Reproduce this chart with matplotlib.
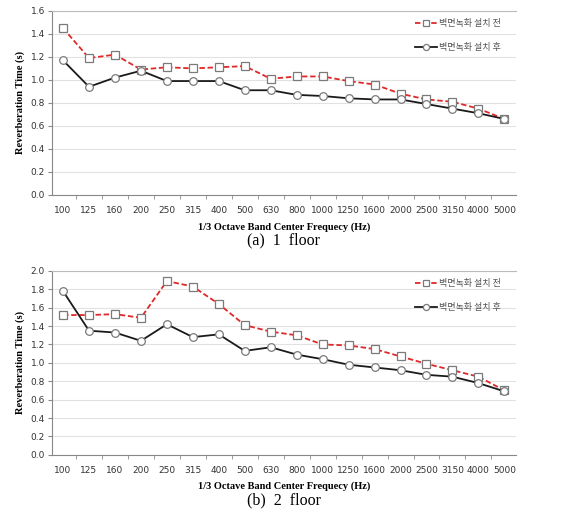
import matplotlib.pyplot as plt
import numpy as np

plt.rcParams['font.family'] = ['DejaVu Sans']

freqs = ['100', '125', '160', '200', '250', '315', '400', '500', '630', '800',
         '1000', '1250', '1600', '2000', '2500', '3150', '4000', '5000']

# (a) 1 floor
before_1 = [1.45, 1.19, 1.22, 1.09, 1.11, 1.10, 1.11, 1.12, 1.01, 1.03,
            1.03, 0.99, 0.96, 0.88, 0.83, 0.81, 0.75, 0.66]
after_1 = [1.17, 0.94, 1.02, 1.08, 0.99, 0.99, 0.99, 0.91, 0.91, 0.87,
           0.86, 0.84, 0.83, 0.83, 0.79, 0.75, 0.71, 0.66]

# (b) 2 floor
before_2 = [1.52, 1.52, 1.53, 1.49, 1.89, 1.83, 1.64, 1.41, 1.34, 1.30,
            1.20, 1.19, 1.15, 1.07, 0.99, 0.92, 0.85, 0.70]
after_2 = [1.78, 1.35, 1.33, 1.24, 1.42, 1.28, 1.31, 1.13, 1.17, 1.09,
           1.04, 0.98, 0.95, 0.92, 0.87, 0.85, 0.78, 0.69]

label_before = '벽면녹화 설치 전'
label_after = '벽면녹화 설치 후'

fig = plt.figure(figsize=(5.64, 5.21), dpi=100)
ax1 = fig.add_axes([0.092, 0.626, 0.823, 0.353])
ax2 = fig.add_axes([0.092, 0.127, 0.823, 0.353])


def draw(ax, before, after, ymax, caption):
    x = np.arange(len(freqs))
    ax.plot(x, before, color='#e02828', linestyle=(0, (3, 1.5)), linewidth=1.3,
            marker='s', markersize=5.5, markerfacecolor='white',
            markeredgecolor='#7a7a7a', markeredgewidth=0.9, label=label_before)
    ax.plot(x, after, color='#1a1a1a', linewidth=1.3,
            marker='o', markersize=5.5, markerfacecolor='white',
            markeredgecolor='#7a7a7a', markeredgewidth=0.9, label=label_after)
    ax.set_xlim(-0.43, len(freqs) - 0.55)
    ax.set_ylim(0, ymax)
    ax.set_yticks(np.arange(0, ymax + 0.01, 0.2))
    ax.set_yticklabels(['%.1f' % v for v in np.arange(0, ymax + 0.01, 0.2)])
    ax.set_xticks(x)
    ax.set_xticklabels(freqs)
    ax.set_xticks(np.arange(0.5, len(freqs) - 1, 1), minor=True)
    ax.tick_params(axis='x', which='major', length=0, labelsize=6.5,
                   colors='#333333', pad=8)
    ax.tick_params(axis='x', which='minor', length=3, direction='out',
                   color='#888888')
    ax.tick_params(axis='y', length=3, direction='out', labelsize=6.5,
                   colors='#333333', pad=2, color='#888888')
    ax.grid(axis='y', color='#e2e2e2', linewidth=0.8)
    ax.set_axisbelow(True)
    ax.spines['right'].set_visible(False)
    ax.spines['top'].set_color('#bbbbbb')
    ax.spines['left'].set_color('#888888')
    ax.spines['bottom'].set_color('#888888')
    ax.set_ylabel('Reverberation Time (s)', family='Liberation Serif',
                  fontweight='bold', fontsize=7.5, labelpad=4)
    ax.set_xlabel('1/3 Octave Band Center Frequecy (Hz)',
                  family='Liberation Serif', fontweight='bold', fontsize=7.5,
                  labelpad=5)
    leg = ax.legend(loc='upper right', bbox_to_anchor=(0.985, 1.0), frameon=False,
                    prop={'family': ['Noto Sans CJK KR', 'DejaVu Sans'], 'size': 6.5},
                    handlelength=2.4, labelspacing=1.7, borderaxespad=0.5,
                    handletextpad=0.3, markerscale=0.8)
    for t in leg.get_texts():
        t.set_color('#555555')
    ax.text(0.5, -0.245, caption, transform=ax.transAxes, ha='center',
            va='center', family='Liberation Serif', fontsize=11.5)


draw(ax1, before_1, after_1, 1.6, '(a)  1  floor')
draw(ax2, before_2, after_2, 2.0, '(b)  2  floor')

fig.savefig('out.png', dpi=100)
